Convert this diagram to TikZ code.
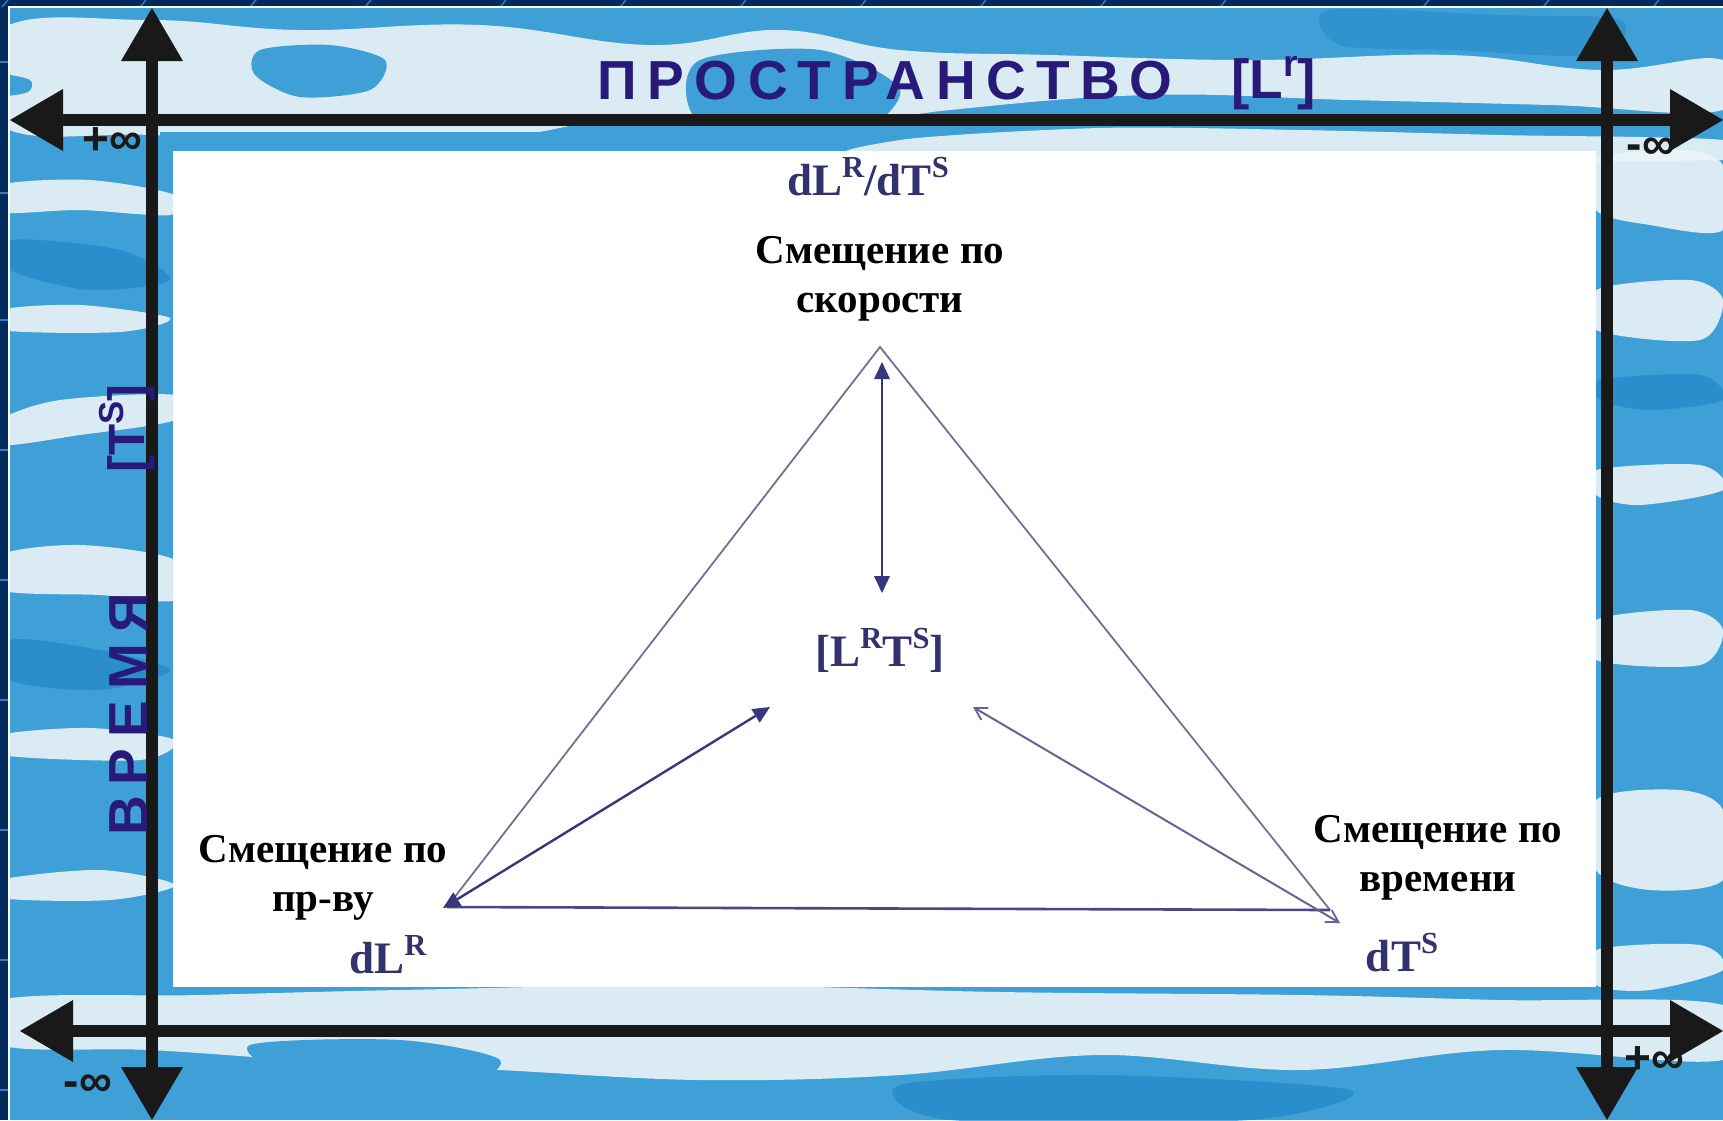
\documentclass[tikz,border=0pt]{standalone}
\usepackage{fontspec}
\setmainfont{Liberation Serif}
\newfontfamily\arialf{Liberation Sans}
\newfontfamily\arialsp[LetterSpace=20]{Liberation Sans}
\usetikzlibrary{arrows.meta}
\definecolor{navy}{RGB}{0,42,92}
\definecolor{navyline}{RGB}{50,120,210}
\definecolor{water}{RGB}{62,160,214}
\definecolor{waterdark}{RGB}{35,135,200}
\definecolor{foam}{RGB}{236,244,248}
\definecolor{ink}{RGB}{40,26,120}
\definecolor{tri}{RGB}{112,112,152}
\definecolor{tribase}{RGB}{72,72,132}
\definecolor{triarrow}{RGB}{55,55,125}
\definecolor{labelblue}{RGB}{50,50,110}
\makeatletter
\newcommand\mysup[1]{\raisebox{0.40em}{\fontsize{\dimexpr0.68\dimexpr\f@size pt\relax\relax}{0pt}\selectfont #1}}
\makeatother
\tikzset{
  axisline/.style={line width=12pt, color=black!90,
    {Triangle[length=53pt,width=62pt,line width=0pt]}-{Triangle[length=53pt,width=62pt,line width=0pt]}},
  inflabel/.style={font=\arialf\bfseries\fontsize{46}{46}\selectfont, text=black!90, inner sep=0pt},
  ruslabel/.style={font=\bfseries\fontsize{41}{49}\selectfont, align=center, text=black, inner sep=0pt},
  varlabel/.style={font=\bfseries\fontsize{45}{45}\selectfont, text=labelblue, inner sep=0pt},
  bigtitle/.style={font=\arialsp\bfseries\fontsize{55}{55}\selectfont, text=ink, inner sep=0pt},
  triedge/.style={draw=tri, line width=1.8pt, line join=miter},
  innerarrow/.style={draw=triarrow, line width=2.4pt,
    {Triangle[length=17pt,width=16pt,line width=0pt]}-{Triangle[length=17pt,width=16pt,line width=0pt]}},
  thinarrow/.style={draw=tri!80!triarrow, line width=2pt,
    {Straight Barb[length=12pt,width=14pt,line width=1.8pt]}-{Straight Barb[length=12pt,width=14pt,line width=1.8pt]}},
  foamblob/.style={fill=foam, opacity=0.9},
  deepblob/.style={fill=waterdark, opacity=0.7}
}
\begin{document}
\begin{tikzpicture}[x=1pt,y=-1pt]
\useasboundingbox (0,0) rectangle (1723,1120);
% frame
\fill[navy] (0,0) rectangle (1723,1120);
\foreach \xx in {2,140,250,365,500,620,740,860,980,1100,1220,1423,1543,1653}
  \draw[navyline, line width=1.5pt] (\xx,7) -- ++(6,-7);
\foreach \yy in {62,193,320,450,580,700,830,960,1090}
  \draw[navyline, line width=1.5pt] (0,\yy) -- (8,\yy);
\begin{scope}
\clip (9,7) rectangle (1723,1120);
\fill[water] (9,7) rectangle (1723,1120);
% top band textures
\fill[foamblob] plot[smooth cycle, tension=0.7] coordinates {(0,30) (150,20) (300,30) (480,25) (650,45) (780,30) (900,50) (1050,55) (1250,60) (1450,55) (1600,70) (1723,60) (1723,110) (1550,105) (1350,100) (1150,95) (950,110) (800,130) (650,115) (480,140) (300,140) (150,135) (0,125)};
\fill[water] plot[smooth cycle] coordinates {(260,50) (330,45) (385,60) (370,90) (300,97) (255,75)};
\fill[waterdark, opacity=0.5] plot[smooth cycle] coordinates {(1330,10) (1500,15) (1620,20) (1600,55) (1450,50) (1340,45)};
\fill[water] plot[smooth cycle] coordinates {(700,60) (820,50) (900,90) (850,140) (740,150) (690,110)};
\fill[water] plot[smooth cycle] coordinates {(0,75) (30,80) (28,92) (0,95)};
\fill[water] (160,132) rectangle (1723,160);
\fill[foamblob] plot[smooth cycle] coordinates {(900,140) (1100,128) (1300,130) (1500,135) (1723,140) (1723,160) (900,160)};
% left strip
\fill[foamblob] plot[smooth cycle] coordinates {(0,185) (90,180) (175,195) (170,215) (80,210) (0,212)};
\fill[deepblob] plot[smooth cycle] coordinates {(10,240) (120,250) (170,280) (90,290) (10,270)};
\fill[foamblob] plot[smooth cycle] coordinates {(0,310) (80,305) (170,318) (120,332) (0,330)};
\fill[foamblob] plot[smooth cycle] coordinates {(0,420) (60,400) (175,395) (175,420) (80,435) (0,445)};
\fill[foamblob] plot[smooth cycle] coordinates {(0,555) (80,545) (175,560) (175,600) (100,595) (0,590)};
\fill[deepblob] plot[smooth cycle] coordinates {(10,640) (100,650) (170,670) (100,690) (10,680)};
\fill[foamblob] plot[smooth cycle] coordinates {(0,735) (90,728) (175,740) (140,760) (0,755)};
\fill[foamblob] plot[smooth cycle] coordinates {(0,880) (100,870) (175,885) (110,900) (0,898)};
% right strip
\fill[foamblob] plot[smooth cycle] coordinates {(1596,160) (1680,150) (1723,165) (1723,230) (1650,225) (1596,210)};
\fill[foamblob] plot[smooth cycle] coordinates {(1596,290) (1690,280) (1723,300) (1700,340) (1596,330)};
\fill[deepblob] plot[smooth cycle] coordinates {(1600,380) (1700,375) (1723,400) (1650,410) (1600,400)};
\fill[foamblob] plot[smooth cycle] coordinates {(1596,470) (1700,465) (1723,490) (1640,505) (1596,495)};
\fill[foamblob] plot[smooth cycle] coordinates {(1596,620) (1690,610) (1723,630) (1700,665) (1596,660)};
\fill[foamblob] plot[smooth cycle] coordinates {(1596,800) (1680,790) (1723,810) (1723,880) (1650,890) (1596,870)};
\fill[foamblob] plot[smooth cycle] coordinates {(1596,950) (1700,945) (1723,970) (1650,990) (1596,985)};
% bottom band
\fill[foamblob] plot[smooth cycle, tension=0.6] coordinates {(0,1000) (200,995) (400,990) (700,985) (1000,992) (1300,995) (1500,1000) (1723,1005) (1723,1060) (1500,1050) (1300,1070) (1100,1055) (900,1075) (700,1080) (500,1070) (300,1060) (150,1050) (0,1045)};
\fill[water] plot[smooth cycle] coordinates {(250,1045) (400,1040) (500,1060) (450,1090) (300,1080)};
\fill[deepblob] plot[smooth cycle] coordinates {(900,1085) (1100,1075) (1350,1090) (1250,1120) (950,1120)};
\end{scope}
\draw[white, line width=1.5pt] (9,1120) -- (9,7) -- (1723,7);
% white panel
\fill[white] (173,151) rectangle (1596,987);
% axes
\coordinate (tl) at (10,120);  \coordinate (tr) at (1723,120);
\coordinate (bl) at (20,1031); \coordinate (br) at (1723,1031);
\coordinate (lt) at (152,8);   \coordinate (lb) at (152,1120);
\coordinate (rt) at (1607,8);  \coordinate (rb) at (1607,1120);
\draw[axisline] (tl) -- (tr);
\draw[axisline] (bl) -- (br);
\draw[axisline] (lt) -- (lb);
\draw[axisline] (rt) -- (rb);
% infinity labels
\node[inflabel] (inf1) at (112,141) {+∞};
\node[inflabel] (inf2) at (1651,149) {-∞};
\node[inflabel] (inf3) at (88,1086) {-∞};
\node[inflabel] (inf4) at (1654,1060) {+∞};
% titles
\node[bigtitle, anchor=west] (space) at (597,81) {ПРОСТРАНСТВО};
\node[font=\arialf\bfseries\fontsize{55}{55}\selectfont, text=ink, inner sep=0pt, anchor=west] (spaceunit) at (1231,83) {[L\mysup{r}]};
\node[bigtitle, rotate=90, anchor=west] (time) at (129,836) {ВРЕМЯ};
\node[font=\arialf\bfseries\fontsize{51}{51}\selectfont, text=ink, inner sep=0pt, rotate=90, anchor=west] (timeunit) at (127,473) {[T\mysup{S}]};
% triangle
\coordinate (apex) at (880,347);
\coordinate (vl) at (447,907);
\coordinate (vr) at (1330,910);
\draw[triedge] (vl) -- (apex) -- (vr);
\draw[draw=tribase, line width=2.6pt] (vl) -- (vr);
% inner arrows
\coordinate (ctop) at (882,362);
\coordinate (cbot) at (882,593);
\draw[innerarrow] (ctop) -- (cbot);
\coordinate (lvtip) at (443,908);
\coordinate (lin) at (770,707);
\draw[innerarrow] (lvtip) -- (lin);
\coordinate (rin) at (973,707);
\coordinate (rvtip) at (1340,923);
\draw[thinarrow] (rin) -- (rvtip);
% labels
\node[varlabel] (rate) at (868,177) {dL\mysup{R}/dT\mysup{S}};
\node[ruslabel] (speed) at (880,279) {Смещение по\\скорости};
\node[varlabel] (center) at (880,650) {[L\mysup{R}T\mysup{S}]};
\node[ruslabel] (spacelbl) at (323,878) {Смещение по\\пр-ву};
\node[ruslabel] (timelbl) at (1438,858) {Смещение по\\времени};
\node[varlabel] (dl) at (388,955) {dL\mysup{R}};
\node[varlabel] (dt) at (1402,953) {dT\mysup{S}};
\end{tikzpicture}
\end{document}
